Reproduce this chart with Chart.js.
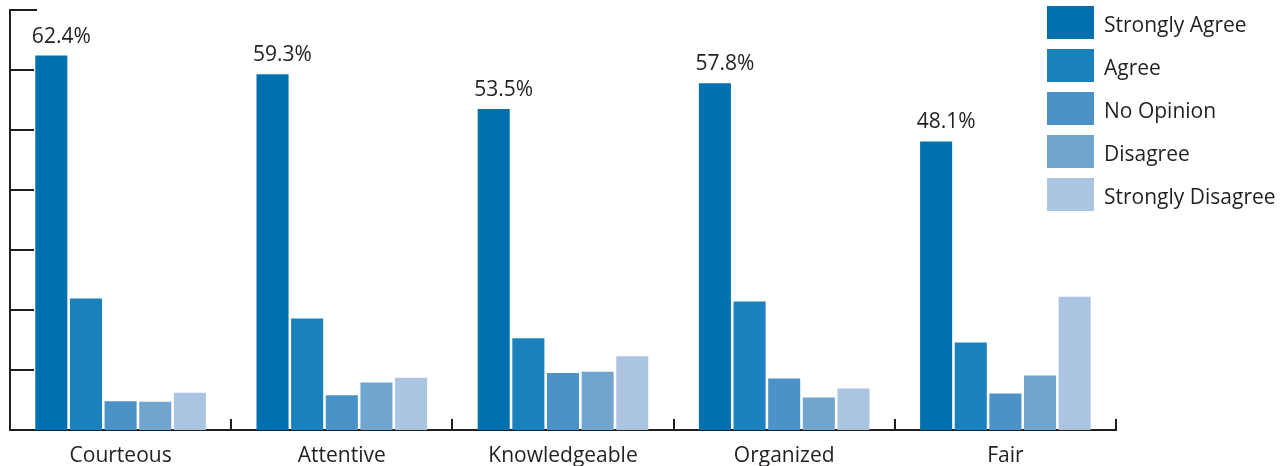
<!DOCTYPE html>
<html>
<head>
<meta charset="utf-8">
<title>Survey responses</title>
<script src="https://cdn.jsdelivr.net/npm/chart.js@4.4.0/dist/chart.umd.min.js"></script>
<style>
  html, body { margin: 0; padding: 0; background: #fff; }
  #survey-chart { display: block; }
</style>
</head>
<body>
<canvas id="survey-chart" width="1288" height="466"></canvas>
<script>
const categories = ['Courteous', 'Attentive', 'Knowledgeable', 'Organized', 'Fair'];

const responseLabels = ['Strongly Agree', 'Agree', 'No Opinion', 'Disagree', 'Strongly Disagree'];

const stronglyAgree = [62.4, 59.3, 53.5, 57.8, 48.1];
const agree = [21.9, 18.6, 15.3, 21.4, 14.6];
const noOpinion = [4.8, 5.8, 9.5, 8.6, 6.1];
const disagree = [4.7, 7.9, 9.7, 5.4, 9.1];
const stronglyDisagree = [6.2, 8.7, 12.3, 6.9, 22.2];

const barColors = ['#0070af', '#1a81bc', '#4a92c7', '#70a5cf', '#aac4e2'];
const axisColor = '#231f20';
const fontFamily = '"Open Sans", "Noto Sans", sans-serif';

const seriesValues = [stronglyAgree, agree, noOpinion, disagree, stronglyDisagree];

// inward tick marks on both axes
const axisMarks = {
    id: 'axisMarks',
    beforeDatasetsDraw(chart) {
        const { ctx, chartArea, scales } = chart;
        ctx.save();
        ctx.strokeStyle = axisColor;
        ctx.lineWidth = 2;
        ctx.beginPath();
        scales.y.ticks.forEach(t => {
            if (t.value === 0) return;
            const py = Math.round(scales.y.getPixelForValue(t.value));
            ctx.moveTo(chartArea.left, py);
            ctx.lineTo(chartArea.left + (t.value === 70 ? 27 : 24), py);
        });
        for (let i = 1; i <= categories.length; i++) {
            const px = Math.round(scales.x.getPixelForValue(i - 0.5));
            ctx.moveTo(px, chartArea.bottom);
            ctx.lineTo(px, chartArea.bottom - 11);
        }
        ctx.stroke();
        ctx.restore();
    }
};

// percentage above the Strongly Agree bars
const topLabels = {
    id: 'topLabels',
    afterDatasetsDraw(chart) {
        const { ctx } = chart;
        const meta = chart.getDatasetMeta(0);
        ctx.save();
        ctx.fillStyle = axisColor;
        ctx.font = '21px ' + fontFamily;
        ctx.textAlign = 'center';
        ctx.textBaseline = 'alphabetic';
        meta.data.forEach((bar, i) => {
            ctx.fillText(stronglyAgree[i].toFixed(1) + '%', bar.x + 10, bar.y - 13);
        });
        ctx.restore();
    }
};

// legend box in the upper right corner
const sideLegend = {
    id: 'sideLegend',
    afterDraw(chart) {
        const { ctx } = chart;
        const left = 1047, top = 6, boxW = 47, boxH = 33, step = 43;
        ctx.save();
        ctx.font = '21px ' + fontFamily;
        ctx.textBaseline = 'middle';
        ctx.textAlign = 'left';
        chart.data.datasets.forEach((ds, i) => {
            const y = top + i * step;
            ctx.fillStyle = ds.backgroundColor;
            ctx.fillRect(left, y, boxW, boxH);
            ctx.fillStyle = axisColor;
            ctx.fillText(ds.label, left + 57, y + boxH / 2 + 4);
        });
        ctx.restore();
    }
};

const chartCanvas = document.querySelector('#survey-chart');

const surveyChart = new Chart(chartCanvas, {
    type: 'bar',
    data: {
        labels: categories,
        datasets: responseLabels.map((label, i) => ({
            label: label,
            data: seriesValues[i],
            backgroundColor: barColors[i],
            borderWidth: 0,
            categoryPercentage: 0.783,
            barPercentage: 0.925
        }))
    },
    options: {
        responsive: false,
        animation: false,
        layout: {
            padding: { left: 10, right: 172, top: 10, bottom: 0 }
        },
        scales: {
            x: {
                grid: { display: false, drawTicks: false },
                border: { display: true, color: axisColor, width: 2 },
                ticks: {
                    color: axisColor,
                    font: { family: fontFamily, size: 21 },
                    padding: 13,
                    maxRotation: 0
                },
                afterFit(scale) { scale.height = 36; }
            },
            y: {
                min: 0,
                max: 70,
                ticks: { display: false, stepSize: 10 },
                grid: { display: false, drawTicks: false },
                border: { display: true, color: axisColor, width: 2 },
                afterFit(scale) { scale.width = 0; }
            }
        },
        plugins: {
            legend: { display: false },
            tooltip: { enabled: false }
        }
    },
    plugins: [axisMarks, topLabels, sideLegend]
});
</script>
</body>
</html>
